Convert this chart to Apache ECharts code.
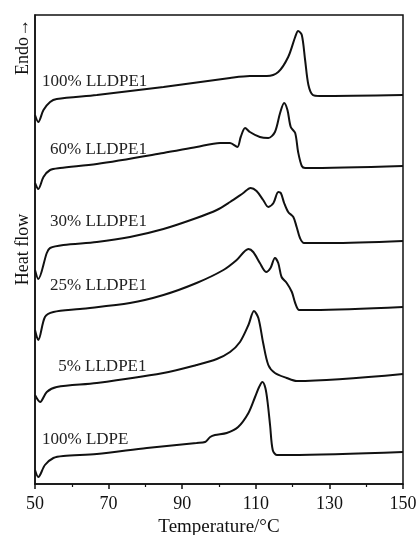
<!DOCTYPE html>
<html>
<head>
<meta charset="utf-8">
<script src="https://cdn.jsdelivr.net/npm/echarts@6/dist/echarts.min.js"></script>
<style>
  html, body { margin: 0; padding: 0; background: #fff; }
  #chart { width: 417px; height: 535px; }
</style>
</head>
<body>
<div id="chart"></div>
<script>
// DSC 熔融曲线（纵向平移后的热流，任意单位）
const xTicks = [50, 70, 90, 110, 130, 150]

const lldpe100T = [50, 50.9, 52.3, 54.1, 55.9, 66.8, 84.9, 103.0, 108.4, 113.0, 116.1, 118.8, 120.7, 121.5, 122.5, 123.4, 124.3, 125.5, 127.4, 150]
const lldpe100H = [369, 362, 374, 382, 385, 389, 397, 406, 408, 408, 412, 427, 447, 453, 449, 424, 399, 389, 388, 389]

const lldpe60T = [50, 50.9, 52.3, 54.1, 56.8, 66.8, 84.9, 93.9, 100.3, 103.0, 105.0, 105.9, 107.1, 108.4, 111.1, 113.4, 115.2, 116.6, 117.7, 118.6, 119.5, 120.7, 121.5, 122.5, 123.4, 150]
const lldpe60H = [301, 295, 307, 314, 316, 320, 331, 337, 341, 341, 337, 347, 356, 352, 347, 346, 352, 371, 381, 374, 357, 351, 332, 318, 316, 318]

const lldpe30T = [50, 50.9, 53.2, 54.1, 57.7, 66.8, 75.8, 84.9, 93.9, 99.4, 103.0, 106.6, 108.6, 110.2, 112.0, 113.4, 114.8, 116.1, 116.8, 117.7, 118.8, 120.2, 121.1, 122.0, 123.1, 130.2, 150]
const lldpe30H = [214, 205, 231, 236, 239, 242, 247, 255, 266, 274, 282, 291, 296, 293, 284, 277, 281, 292, 291, 281, 272, 267, 257, 246, 241, 241, 243]

const lldpe25T = [50, 50.5, 50.9, 52.7, 55.0, 62.2, 75.8, 84.9, 93.9, 101.2, 104.8, 108.0, 109.3, 111.1, 112.8, 114.0, 115.2, 116.1, 117.0, 118.4, 119.8, 120.7, 121.8, 125.6, 150]
const lldpe25H = [154, 147, 144, 167, 172, 175, 181, 189, 201, 214, 224, 235, 232, 221, 212, 216, 226, 221, 207, 201, 192, 181, 174, 174, 177]

const lldpe5T = [50, 51.4, 53.2, 55.9, 66.8, 84.9, 93.9, 99.4, 103.0, 105.7, 108.0, 109.5, 110.7, 112.0, 113.4, 115.2, 118.4, 121.1, 150]
const lldpe5H = [89, 82, 92, 97, 101, 111, 119, 125, 132, 142, 159, 173, 166, 141, 119, 111, 106, 103, 110]

const ldpeT = [50, 50.9, 52.7, 55.0, 57.7, 66.8, 80.4, 93.9, 96.2, 97.6, 98.9, 102.1, 105.2, 108.0, 109.8, 110.9, 111.8, 112.6, 113.2, 113.9, 114.6, 115.7, 119.3, 150]
const ldpeH = [14, 7, 19, 26, 28, 30, 36, 41, 42, 47, 49, 51, 57, 71, 87, 97, 102, 96, 82, 58, 34, 29, 29, 32]

const names = ['100% LLDPE1', '60% LLDPE1', '30% LLDPE1', '25% LLDPE1', '5% LLDPE1', '100% LDPE']
// 曲线标注的位置（数据坐标，文字左端）
const labelT = [51.9, 54.1, 54.1, 54.1, 56.3, 51.9]
const labelH = [402, 334, 262, 198, 117, 44]

const curves = [
  [lldpe100T, lldpe100H],
  [lldpe60T, lldpe60H],
  [lldpe30T, lldpe30H],
  [lldpe25T, lldpe25H],
  [lldpe5T, lldpe5H],
  [ldpeT, ldpeH]
]

const font = '"Liberation Serif", "DejaVu Serif", serif'

const chart = echarts.init(document.getElementById('chart'))

const option = {
  backgroundColor: '#fff',
  animation: false,
  grid: {
    left: 35,
    right: 14,
    top: 15,
    bottom: 51,
    outerBoundsMode: 'none',
    show: true,
    borderColor: '#111',
    borderWidth: 1.5
  },
  xAxis: {
    type: 'value',
    min: 50,
    max: 150,
    interval: 20,
    name: 'Temperature/°C',
    nameLocation: 'middle',
    nameGap: 32,
    nameTextStyle: { fontFamily: font, fontSize: 19, color: '#111' },
    axisLine: { lineStyle: { color: '#111', width: 1.5 } },
    axisTick: { length: 5, lineStyle: { color: '#111', width: 1.5 } },
    minorTick: { show: true, splitNumber: 2, length: 3, lineStyle: { color: '#111', width: 1.2 } },
    axisLabel: {
      fontFamily: font,
      fontSize: 18,
      color: '#111',
      margin: 11,
      formatter: (v) => (xTicks.includes(v) ? String(v) : '')
    },
    splitLine: { show: false }
  },
  yAxis: {
    type: 'value',
    min: 0,
    max: 469,
    name: 'Heat flow',
    nameLocation: 'middle',
    nameGap: 3,
    nameTextStyle: { fontFamily: font, fontSize: 18, color: '#111' },
    axisLine: { show: true, lineStyle: { color: '#111', width: 1.5 } },
    axisTick: { show: false },
    axisLabel: { show: false },
    splitLine: { show: false }
  },
  graphic: [
    {
      type: 'text',
      x: 23,
      y: 47,
      rotation: Math.PI / 2,
      style: {
        text: 'Endo→',
        font: '18px ' + font,
        fill: '#111',
        align: 'center',
        verticalAlign: 'middle'
      }
    }
  ],
  series: curves.map((c, i) => ({
    name: names[i],
    type: 'line',
    data: c[0].map((t, j) => [t, c[1][j]]),
    smooth: 0.3,
    showSymbol: false,
    lineStyle: { color: '#111', width: 2 },
    markPoint: {
      symbol: 'circle',
      symbolSize: 0,
      data: [{ coord: [labelT[i], labelH[i]] }],
      label: {
        show: true,
        position: 'right',
        distance: 0,
        formatter: names[i],
        fontFamily: font,
        fontSize: 17,
        color: '#222'
      }
    }
  }))
}

chart.setOption(option)
</script>
</body>
</html>
